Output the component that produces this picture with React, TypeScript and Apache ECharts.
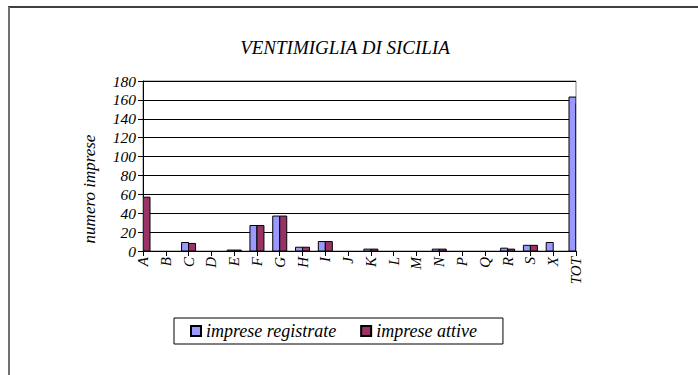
import React, { useEffect, useRef } from "react";
import * as echarts from "echarts";

const categories = ["A","B","C","D","E","F","G","H","I","J","K","L","M","N","P","Q","R","S","X","TOT"];
const impreseRegistrate = [57,0,9,0,1,27,37,4,10,0,2,0,0,2,0,0,3,6,9,163];
const impreseAttive = [57,0,8,0,1,27,37,4,10,0,2,0,0,2,0,0,2,6,0,156];
const yTicks = { min: 0, max: 180, interval: 20 };
const titleText = "VENTIMIGLIA DI SICILIA";
const yAxisTitle = "numero imprese";
const seriesNames = ["imprese registrate", "imprese attive"];
const seriesColors = ["#9999FF", "#993366"];

const FONT = "'Times New Roman', 'Liberation Serif', 'DejaVu Serif', serif";
const BAR_W = 7;

function makeRender(side: number) {
  return (params: any, api: any) => {
    const v = api.value(1);
    if (!v) return null;
    const top = api.coord([api.value(0), v]);
    const base = api.coord([api.value(0), 0]);
    const x = side < 0 ? top[0] - BAR_W : top[0];
    return {
      type: "rect",
      shape: { x, y: top[1], width: BAR_W, height: base[1] - top[1] },
      style: api.style({ stroke: "#000", lineWidth: 1 }),
    };
  };
}

export default function App() {
  const ref = useRef<HTMLDivElement>(null);
  useEffect(() => {
    if (!ref.current) return;
    const chart = echarts.init(ref.current, null, { renderer: "svg" });
    const txt = { fontFamily: FONT, fontStyle: "italic" as const, color: "#000" };
    chart.setOption({
      animation: false,
      backgroundColor: "#fff",
      grid: {
        left: 143, right: 122, top: 81, bottom: 124,
        show: true, borderColor: "#808080", borderWidth: 1,
      },
      legend: {
        left: 174, top: 318,
        data: seriesNames,
        borderColor: "#000", borderWidth: 1,
        padding: [4, 26, 4, 16],
        itemGap: 24, itemWidth: 10, itemHeight: 10,
        icon: "rect",
        textStyle: { ...txt, fontSize: 18 },
      },
      xAxis: {
        type: "category",
        data: categories,
        boundaryGap: false,
        axisLine: { lineStyle: { color: "#000", width: 1 } },
        axisTick: { show: true, length: 5, interval: 0, lineStyle: { color: "#000" } },
        axisLabel: { ...txt, fontSize: 15, rotate: 90, interval: 0, margin: 6 },
        splitLine: { show: false },
      },
      yAxis: {
        type: "value",
        min: yTicks.min, max: yTicks.max, interval: yTicks.interval,
        axisLine: { show: true, lineStyle: { color: "#000", width: 1 } },
        axisTick: { show: true, length: 5, lineStyle: { color: "#000" } },
        axisLabel: { ...txt, fontSize: 15.5, margin: 7 },
        splitLine: { show: true, lineStyle: { color: "#000", width: 1 } },
      },
      series: [
        {
          name: seriesNames[0], type: "custom", clip: true,
          data: impreseRegistrate.map((v, i) => [i, v]),
          encode: { x: 0, y: 1 },
          renderItem: makeRender(-1),
          itemStyle: { color: seriesColors[0], borderColor: "#000", borderWidth: 1 },
        },
        {
          name: seriesNames[1], type: "custom", clip: true,
          data: impreseAttive.map((v, i) => [i, v]),
          encode: { x: 0, y: 1 },
          renderItem: makeRender(1),
          itemStyle: { color: seriesColors[1], borderColor: "#000", borderWidth: 1 },
        },
      ],
      graphic: [
        { type: "line", shape: { x1: 8, y1: 7, x2: 698, y2: 7 }, style: { stroke: "#000", lineWidth: 1.5 }, silent: true },
        { type: "line", shape: { x1: 9, y1: 7, x2: 9, y2: 375 }, style: { stroke: "#707070", lineWidth: 2 }, silent: true },
        {
          type: "text", x: 345, y: 47,
          style: { text: titleText, fontFamily: FONT, fontStyle: "italic", fontSize: 19, fill: "#000", align: "center", verticalAlign: "middle" },
        },
        {
          type: "text", x: 89, y: 189, rotation: Math.PI / 2,
          style: { text: yAxisTitle, fontFamily: FONT, fontStyle: "italic", fontSize: 17, fill: "#000", align: "center", verticalAlign: "middle" },
        },
      ],
    });
    return () => chart.dispose();
  }, []);
  return <div ref={ref} style={{ position: "fixed", left: 0, top: 0, width: 698, height: 375 }} />;
}
